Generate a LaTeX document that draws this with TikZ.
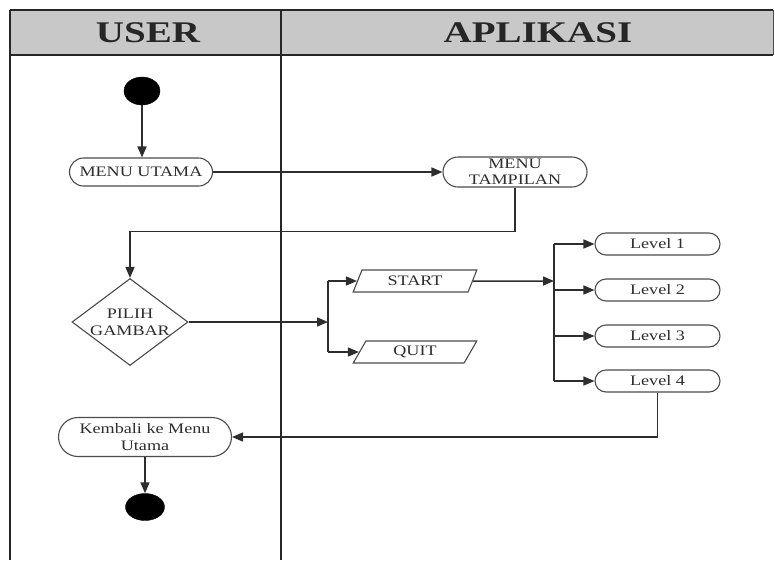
\documentclass[tikz,border=0pt]{standalone}
\usepackage{fontspec}
\setmainfont{Liberation Serif}
\usetikzlibrary{shapes.misc,shapes.geometric,arrows.meta}
\definecolor{hdr}{RGB}{200,200,200}
\definecolor{ink}{RGB}{45,45,45}
\definecolor{edge}{RGB}{75,75,75}
\newcommand{\wtxt}[1]{\scalebox{1.25}[1]{#1}}
\begin{document}
\begin{tikzpicture}[x=1pt,y=-1pt,
  lane/.style={line width=1.8pt,draw=black!85},
  arr/.style={line width=1.5pt,draw=ink,-{Triangle[length=11pt,width=9pt]}},
  ln/.style={line width=1.5pt,draw=ink},
  txt/.style={font=\fontsize{14.5}{17}\selectfont,text=ink,align=center,inner sep=0pt},
  stadium/.style={txt,rounded rectangle,draw=edge,line width=1.1pt},
  para/.style={txt,trapezium,trapezium left angle=65,trapezium right angle=115,draw=edge,line width=1.1pt,trapezium stretches=true},
  dot/.style={ellipse,fill=black,draw=black,inner sep=0pt}
]
\useasboundingbox (0,0) rectangle (775,563);
% header and lanes
\fill[hdr] (10,10) rectangle (773,55);
\draw[lane] (10,10) -- (773,10);
\draw[lane] (10,55) -- (773,55);
\draw[lane] (10,10) -- (10,560);
\draw[lane] (281,10) -- (281,560);
\draw[line width=1pt,draw=black!70] (773,10) -- (773,55);
\node[font=\fontsize{30}{32}\selectfont\bfseries,text=black!85] (huser) at (148,33) {\scalebox{1.3}[1]{USER}};
\node[font=\fontsize{30}{32}\selectfont\bfseries,text=black!85] (happ) at (538,33) {\scalebox{1.3}[1]{APLIKASI}};
% nodes
\node[dot,minimum width=36pt,minimum height=28pt] (start) at (142,91) {};
\node[stadium,minimum width=143pt,minimum height=28pt] (mu) at (141,172) {\wtxt{MENU UTAMA}};
\node[stadium,minimum width=144pt,minimum height=30pt] (mt) at (515,172) {\wtxt{MENU}\\[-1pt]\wtxt{TAMPILAN}};
\node[txt,diamond,aspect=1.33,inner sep=-3pt,draw=edge,line width=1.1pt,minimum width=116pt,minimum height=87pt] (pg) at (130,322) {\wtxt{PILIH}\\\wtxt{GAMBAR}};
\node[para,minimum width=124pt,minimum height=22pt] (st) at (415,281) {\wtxt{START}};
\node[para,minimum width=124pt,minimum height=22pt] (qt) at (415,352) {\wtxt{QUIT}};
\node[stadium,minimum width=125pt,minimum height=22pt] (l1) at (657.5,244) {\wtxt{Level 1}};
\node[stadium,minimum width=125pt,minimum height=22pt] (l2) at (657.5,290) {\wtxt{Level 2}};
\node[stadium,minimum width=125pt,minimum height=22pt] (l3) at (657.5,336) {\wtxt{Level 3}};
\node[stadium,minimum width=125pt,minimum height=22pt] (l4) at (657.5,381) {\wtxt{Level 4}};
\node[stadium,minimum width=173pt,minimum height=39pt] (kb) at (145,437) {\wtxt{Kembali ke Menu}\\\wtxt{Utama}};
\node[dot,minimum width=39pt,minimum height=27pt] (end) at (145,507) {};
\coordinate (fa) at (328,322);
\coordinate (fb) at (554,281);
% connectors
\draw[arr] (start) -- (start |- mu.north);
\draw[arr] (mu.east) -- (mt.west);
\draw[arr] (mt.south) -- ++(0,44) -| (pg.north);
\draw[arr] (pg.east) -- (fa);
\draw[ln] (fa |- st.west) -- (fa |- qt.west);
\draw[arr] (fa |- st.west) -- (st.west);
\draw[arr] (fa |- qt.west) -- (qt.west);
\draw[arr] (st.east) -- (fb);
\draw[ln] (fb |- l1.west) -- (fb |- l4.west);
\draw[arr] (fb |- l1.west) -- (l1.west);
\draw[arr] (fb |- l2.west) -- (l2.west);
\draw[arr] (fb |- l3.west) -- (l3.west);
\draw[arr] (fb |- l4.west) -- (l4.west);
\draw[arr] (l4.south) |- (kb.east);
\draw[arr] (kb.south) -- (end.north);
\end{tikzpicture}
\end{document}
